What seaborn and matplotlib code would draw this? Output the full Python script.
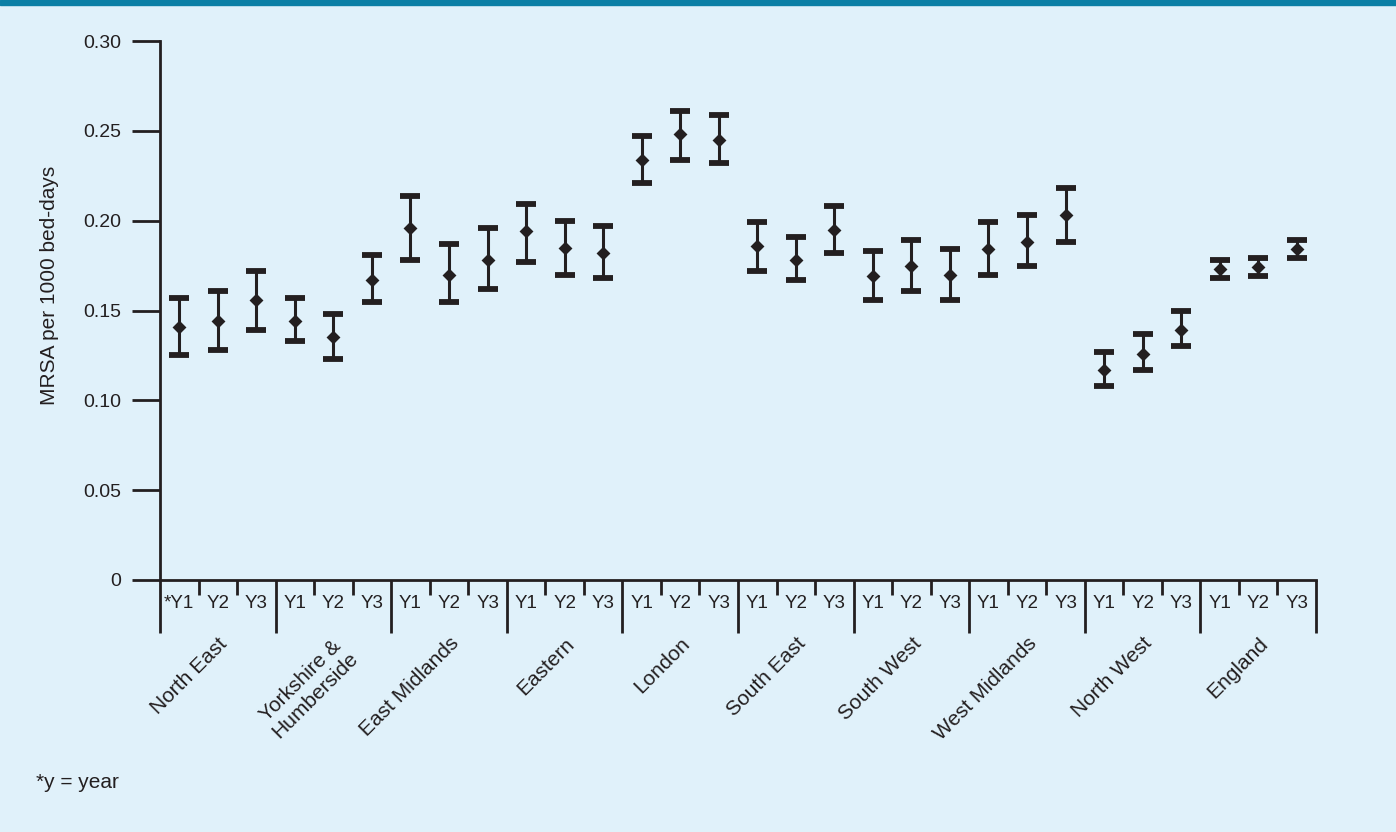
import numpy as np
import pandas as pd
import seaborn as sns
import matplotlib.pyplot as plt
from matplotlib.patches import Rectangle
from matplotlib.transforms import blended_transform_factory

sns.set_theme(style="ticks")
plt.rcParams['font.family'] = ['Liberation Sans', 'DejaVu Sans']

regions = ["North East", "Yorkshire &\nHumberside", "East Midlands", "Eastern", "London",
           "South East", "South West", "West Midlands", "North West", "England"]
years = ["Y1", "Y2", "Y3"]

# MRSA per 1000 bed-days, three years per region
rate = [0.141, 0.144, 0.156, 0.144, 0.135, 0.167, 0.196, 0.170, 0.178, 0.194,
        0.185, 0.182, 0.234, 0.248, 0.245, 0.186, 0.178, 0.195, 0.169, 0.175,
        0.170, 0.184, 0.188, 0.203, 0.117, 0.126, 0.139, 0.173, 0.174, 0.184]
lower = [0.125, 0.128, 0.139, 0.133, 0.123, 0.155, 0.178, 0.155, 0.162, 0.177,
         0.170, 0.168, 0.221, 0.234, 0.232, 0.172, 0.167, 0.182, 0.156, 0.161,
         0.156, 0.170, 0.175, 0.188, 0.108, 0.117, 0.130, 0.168, 0.169, 0.179]
upper = [0.157, 0.161, 0.172, 0.157, 0.148, 0.181, 0.214, 0.187, 0.196, 0.209,
         0.200, 0.197, 0.247, 0.261, 0.259, 0.199, 0.191, 0.208, 0.183, 0.189,
         0.184, 0.199, 0.203, 0.218, 0.127, 0.137, 0.150, 0.178, 0.179, 0.189]

df = pd.DataFrame({
    "region": np.repeat(regions, 3),
    "year": years * len(regions),
    "rate": rate, "lower": lower, "upper": upper,
})
df["pos"] = np.arange(len(df)) + 0.5

bg = "#E0F1FA"
ink = "#231F20"

fig = plt.figure(figsize=(13.96, 8.32), dpi=100, facecolor=bg)
ax = fig.add_axes([160 / 1396, 252 / 832, 1156 / 1396, 539 / 832])
ax.set_facecolor(bg)
fig.patches.append(Rectangle((0, 1 - 5 / 832), 1, 5 / 832, transform=fig.transFigure,
                             color="#0B7FA5", zorder=0))

ax.errorbar(df["pos"], df["rate"], yerr=[df["rate"] - df["lower"], df["upper"] - df["rate"]],
            fmt="none", ecolor=ink, elinewidth=2.2, capsize=7.5, capthick=4.2, zorder=2)
sns.scatterplot(data=df, x="pos", y="rate", marker="D", s=50, color=ink, linewidth=0,
                ax=ax, zorder=3, legend=False)

ax.set_xlim(0, 30)
ax.set_ylim(0, 0.30)
ax.set_yticks([0, 0.05, 0.10, 0.15, 0.20, 0.25, 0.30])
ax.set_yticklabels(["0", "0.05", "0.10", "0.15", "0.20", "0.25", "0.30"])
ax.set_xticks(np.arange(0, 31, 3))
ax.set_xticks([i for i in range(31) if i % 3], minor=True)
ax.tick_params(axis="x", which="major", length=38, width=2, color=ink, labelbottom=False)
ax.tick_params(axis="x", which="minor", length=11, width=2, color=ink, labelbottom=False)
ax.tick_params(axis="y", length=20, width=2, color=ink, labelsize=14, labelcolor=ink, pad=8)
ax.set_xlabel("")
ax.set_ylabel("")
for s in ["left", "bottom"]:
    ax.spines[s].set_linewidth(2)
    ax.spines[s].set_color(ink)
sns.despine(ax=ax)

trans = blended_transform_factory(ax.transData, ax.transAxes)
for i, row in df.iterrows():
    lab = ("*" if i == 0 else "") + row["year"]
    ax.text(row["pos"], -0.044, lab, transform=trans, ha="center", va="center",
            fontsize=13.5, color=ink)
for g, name in enumerate(regions):
    ax.text(g * 3 + 1.5, -0.10, name, transform=trans, rotation=45, rotation_mode="anchor",
            ha="right", va="top", fontsize=15, color=ink, multialignment="center",
            linespacing=1.1)

fig.text(50 / 1396, 1 - 285 / 832, "MRSA per 1000 bed-days", rotation=90, ha="center",
         va="center", fontsize=15, color=ink)
fig.text(36 / 1396, 1 - 783 / 832, "*y = year", ha="left", va="center", fontsize=15, color=ink)

fig.savefig("out.png", dpi=100, facecolor=bg)
